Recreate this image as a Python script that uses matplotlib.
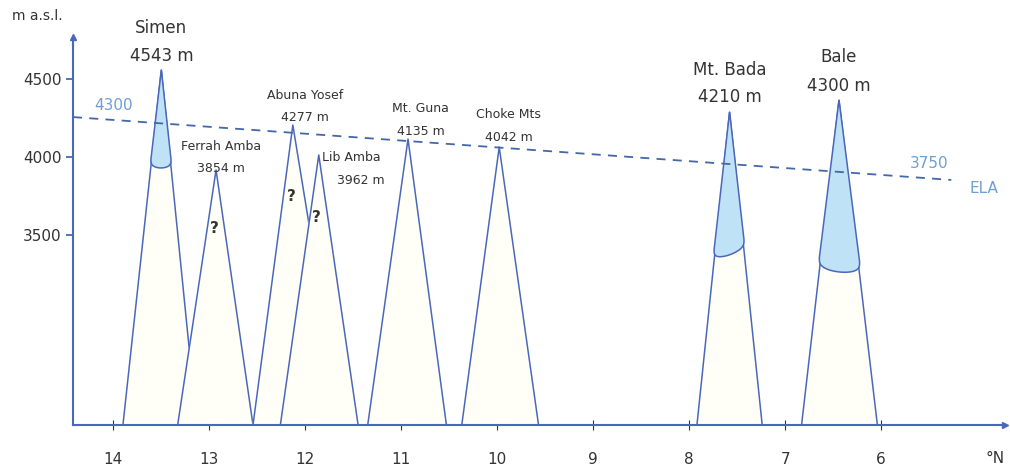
import numpy as np
import matplotlib
matplotlib.use("Agg")
import matplotlib.pyplot as plt

# mountains: name, label elevation, peak lat / elev as drawn, base lats
names = ["Simen", "Ferrah Amba", "Abuna Yosef", "Lib Amba", "Mt. Guna", "Choke Mts", "Mt. Bada", "Bale"]
heights = [4543, 3854, 4277, 3962, 4135, 4042, 4210, 4300]
peak_lat = [13.50, 12.93, 12.13, 11.86, 10.93, 9.98, 7.58, 6.44]
peak_elev = [4558, 3917, 4205, 4013, 4115, 4064, 4288, 4365]
base_left = [13.90, 13.33, 12.545, 12.26, 11.35, 10.37, 7.92, 6.83]
base_right = [13.13, 12.545, 11.62, 11.45, 10.53, 9.57, 7.24, 6.04]

# glaciers: mountain index, lower limit on left / right edge, lowest point
glacier_idx = [0, 6, 7]
glacier_left = [3985, 3404, 3353]
glacier_right = [3985, 3468, 3327]
glacier_bottom = [3930, 3372, 3263]

# uncertain glaciation marks
question_idx = [1, 2, 3]
question_elev = [3540, 3745, 3615]

# equilibrium line altitude, as drawn
ela_lat = [14.42, 5.27]
ela_elev = [4256, 3853]

blue = "#4a68bb"
ela_col = "#6f9fd0"
txt = "#333333"

fig = plt.figure(figsize=(10.1, 4.7), dpi=100)
ax = fig.add_axes([0.0723, 0.0957, 0.9228, 0.8255])
ax.set_xlim(14.42, 4.71)
ax.set_ylim(2282, 4769)

base = ax.get_ylim()[0]

for i in range(len(names)):
    xs = [base_left[i], peak_lat[i], base_right[i]]
    ys = [base, peak_elev[i], base]
    ax.fill(xs, ys, color="#fffff7", zorder=2 + i * 0.1)
    ax.plot(xs, ys, color=blue, lw=1.1, zorder=2.05 + i * 0.1)


def edge_x(x0, y0, x1, y1, y):
    return x0 + (x1 - x0) * (y - y0) / (y1 - y0)


for k, i in enumerate(glacier_idx):
    xl = edge_x(base_left[i], base, peak_lat[i], peak_elev[i], glacier_left[k])
    xr = edge_x(base_right[i], base, peak_lat[i], peak_elev[i], glacier_right[k])
    xc = (xl + xr) / 2
    hw = (xl - xr) / 2
    t = np.linspace(0, np.pi, 30)
    ax_x = xc - hw * np.cos(t) * 1.08
    ymid = (glacier_left[k] + glacier_right[k]) / 2
    ax_y = ymid + (glacier_right[k] - glacier_left[k]) / 2 * np.cos(t) \
        - (ymid - glacier_bottom[k]) * np.sin(t) ** 0.6
    gx = [peak_lat[i]] + list(ax_x[::-1]) + [peak_lat[i]]
    gy = [peak_elev[i]] + list(ax_y[::-1]) + [peak_elev[i]]
    ax.fill(gx, gy, facecolor="#bfe2f7", edgecolor=blue, lw=1.1, zorder=4)

for k, i in enumerate(question_idx):
    ax.text(peak_lat[i] + 0.02, question_elev[k], "?", ha="center", va="center",
            fontsize=11, fontweight="bold", color=txt, zorder=5)

ax.plot(ela_lat, ela_elev, color="#4466aa", lw=1.3, ls=(0, (5, 4)), zorder=6)
ax.text(14.0, 4330, "4300", color=ela_col, fontsize=11, ha="center", va="center")
ax.text(5.5, 3960, "3750", color=ela_col, fontsize=11, ha="center", va="center")
ax.text(4.93, 3800, "ELA", color=ela_col, fontsize=11, ha="center", va="center")

# peak labels
big = [0, 6, 7]
label_pos = [(13.50, 4830, 4650), (12.88, 4070, 3925), (12.00, 4395, 4255),
             (11.52, 3999, 3852), (10.80, 4310, 4165), (9.88, 4275, 4128),
             (7.58, 4560, 4387), (6.44, 4640, 4455)]
for i, (lx, ly1, ly2) in enumerate(label_pos):
    fs = 12 if i in big else 9
    dx = -0.1 if i == 3 else 0
    ax.text(lx, ly1, names[i], ha="center", va="center", fontsize=fs, color=txt, clip_on=False)
    ax.text(lx + dx, ly2, f"{heights[i]} m", ha="center", va="center", fontsize=fs, color=txt,
            clip_on=False)

for s in ["top", "right"]:
    ax.spines[s].set_visible(False)
for s in ["left", "bottom"]:
    ax.spines[s].set_color(blue)
    ax.spines[s].set_linewidth(1.5)
    ax.spines[s].set_zorder(7)

ax.plot(1, 0, ">", color=blue, ms=5, transform=ax.transAxes, clip_on=False, zorder=8)
ax.plot(0, 1, "^", color=blue, ms=5, transform=ax.transAxes, clip_on=False, zorder=8)

ax.set_xticks([14, 13, 12, 11, 10, 9, 8, 7, 6])
ax.set_yticks([3500, 4000, 4500])
ax.tick_params(axis="x", direction="inout", length=7, color=txt, labelsize=11,
               labelcolor=txt, pad=16)
ax.tick_params(axis="y", direction="out", length=5, color=blue, width=1.3,
               labelsize=11, labelcolor=txt, pad=3)

fig.text(0.037, 0.965, "m a.s.l.", fontsize=10, color=txt, ha="center", va="center")
fig.text(0.985, 0.025, "°N", fontsize=11, color=txt, ha="center", va="center")

fig.savefig("out.png", dpi=100)
